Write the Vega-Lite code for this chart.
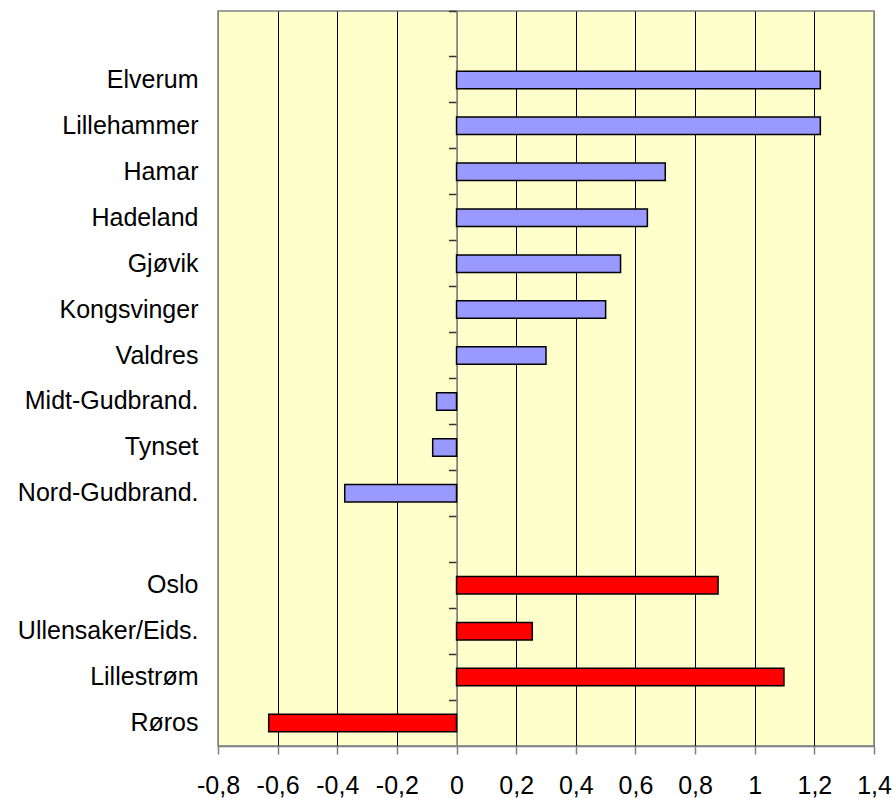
{
  "$schema": "https://vega.github.io/schema/vega-lite/v6.json",
  "width": 656,
  "height": 735,
  "autosize": "none",
  "padding": {"left": 218, "top": 11, "right": 20, "bottom": 52},
  "background": "white",
  "config": {
    "view": {"fill": "#FFFFCC", "stroke": "#808080", "strokeWidth": 1.5},
    "font": "Liberation Sans"
  },
  "data": {
    "values": [
      {"region": "Elverum", "group": "Innlandet", "value": 1.22},
      {"region": "Lillehammer", "group": "Innlandet", "value": 1.22},
      {"region": "Hamar", "group": "Innlandet", "value": 0.70},
      {"region": "Hadeland", "group": "Innlandet", "value": 0.64},
      {"region": "Gjøvik", "group": "Innlandet", "value": 0.55},
      {"region": "Kongsvinger", "group": "Innlandet", "value": 0.50},
      {"region": "Valdres", "group": "Innlandet", "value": 0.30},
      {"region": "Midt-Gudbrand.", "group": "Innlandet", "value": -0.067},
      {"region": "Tynset", "group": "Innlandet", "value": -0.08},
      {"region": "Nord-Gudbrand.", "group": "Innlandet", "value": -0.375},
      {"region": "Oslo", "group": "Andre", "value": 0.877},
      {"region": "Ullensaker/Eids.", "group": "Andre", "value": 0.254},
      {"region": "Lillestrøm", "group": "Andre", "value": 1.098},
      {"region": "Røros", "group": "Andre", "value": -0.63}
    ]
  },
  "layer": [
    {
      "mark": {"type": "bar", "stroke": "black", "strokeWidth": 1.5, "height": {"band": 0.38}},
      "encoding": {
        "y": {
          "field": "region",
          "type": "nominal",
          "scale": {
            "domain": [" ", "Elverum", "Lillehammer", "Hamar", "Hadeland", "Gjøvik", "Kongsvinger", "Valdres", "Midt-Gudbrand.", "Tynset", "Nord-Gudbrand.", "  ", "Oslo", "Ullensaker/Eids.", "Lillestrøm", "Røros"],
            "paddingInner": 0,
            "paddingOuter": 0
          },
          "axis": {
            "orient": "left",
            "title": null,
            "ticks": false,
            "domain": false,
            "grid": false,
            "labelFontSize": 25,
            "labelPadding": 20,
            "labelColor": "black",
            "labelLimit": 400
          }
        },
        "x": {
          "field": "value",
          "type": "quantitative",
          "scale": {"domain": [-0.8, 1.4], "nice": false, "zero": false},
          "axis": {
            "title": null,
            "values": [-0.8, -0.6, -0.4, -0.2, 0, 0.2, 0.4, 0.6, 0.8, 1, 1.2, 1.4],
            "labelExpr": "replace(replace(format(datum.value, '.1~f'), '.', ','), '\u2212', '-')",
            "labelFontSize": 25,
            "labelColor": "black",
            "labelPadding": 19,
            "labelOverlap": false,
            "labelFlush": false,
            "tickSize": 8,
            "tickColor": "#808080",
            "tickWidth": 1.5,
            "domainColor": "#808080",
            "domainWidth": 1.5,
            "grid": true,
            "gridColor": {"condition": {"test": "abs(datum.value) < 0.001 || datum.value < -0.79 || datum.value > 1.39", "value": "#808080"}, "value": "black"},
            "gridWidth": 1,
            "gridOpacity": 1
          }
        },
        "color": {
          "field": "group",
          "type": "nominal",
          "scale": {"domain": ["Innlandet", "Andre"], "range": ["#9999FF", "#FF0000"]},
          "legend": null
        }
      }
    },
    {
      "mark": {"type": "rule", "opacity": 0},
      "encoding": {
        "y": {
          "field": "region",
          "type": "nominal",
          "axis": {
            "orient": "left",
            "offset": -238.5,
            "title": null,
            "labels": false,
            "ticks": true,
            "tickSize": 8,
            "tickColor": "#333333",
            "tickWidth": 1.5,
            "domain": true,
            "domainColor": "#808080",
            "domainWidth": 1.5,
            "bandPosition": 0,
            "grid": false
          }
        },
        "x": {"datum": 0}
      }
    }
  ],
  "resolve": {"axis": {"y": "independent"}}
}
